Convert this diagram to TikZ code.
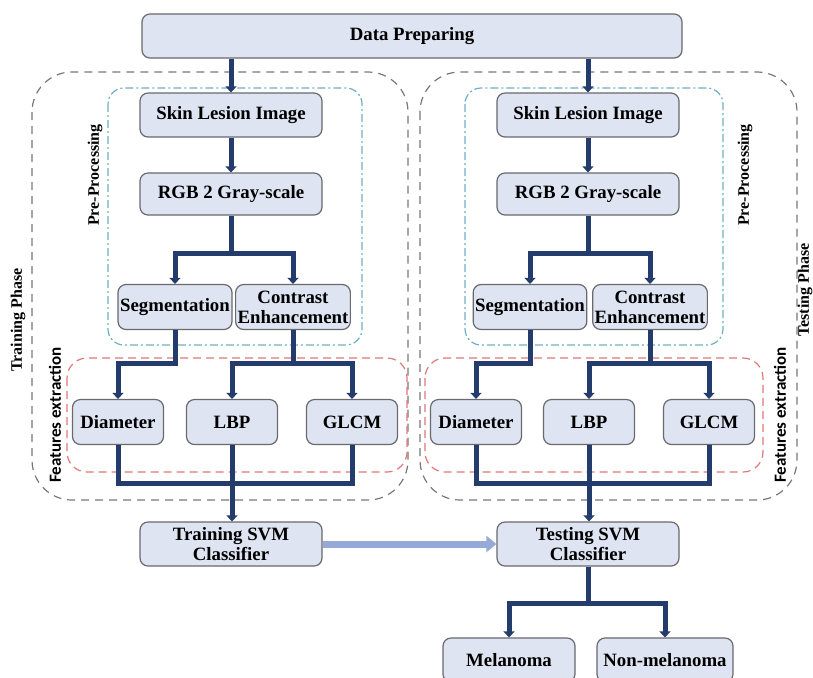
\documentclass[tikz,border=0pt]{standalone}
\usepackage{fontspec}
\setmainfont{Liberation Serif}
\newfontfamily\labelsans{Carlito}
\usetikzlibrary{arrows.meta}
\usetikzlibrary{positioning}
\definecolor{boxfill}{RGB}{222, 228, 242}
\definecolor{boxline}{RGB}{105, 105, 110}
\definecolor{flownavy}{RGB}{36, 60, 108}
\definecolor{phasegray}{RGB}{120, 120, 120}
\definecolor{precyan}{RGB}{110, 175, 200}
\definecolor{featred}{RGB}{225, 120, 120}
\definecolor{paleblue}{RGB}{150, 170, 215}
\tikzset{box/.style = {draw=boxline, line width=0.6pt, fill=boxfill, rounded corners=4pt,
                       align=center, inner sep=1pt,
                       font=\bfseries\fontsize{9.4}{10}\selectfont}}
\tikzset{wbox/.style = {box, minimum width=91pt, minimum height=22pt}}
\tikzset{sbox/.style = {box, minimum width=45.5pt, minimum height=22.5pt}}
\tikzset{line/.style = {draw=flownavy, line width=2.5pt}}
\tikzset{flow/.style = {line, -{Triangle[width=5.5pt,length=3pt]}}}
\tikzset{phase/.style = {draw=phasegray, line width=0.6pt, dash pattern=on 4pt off 3pt, rounded corners=20pt}}
\tikzset{preproc/.style = {draw=precyan, line width=0.6pt, dash pattern=on 4pt off 1.5pt on 1pt off 1.5pt, rounded corners=8pt}}
\tikzset{featx/.style = {draw=featred, line width=0.6pt, dash pattern=on 4pt off 2.5pt, rounded corners=10pt}}
\tikzset{side/.style = {rotate=90, font=\bfseries\fontsize{8}{9}\selectfont}}
\begin{document}
\begin{tikzpicture}[x=0.5pt, y=-0.5pt]
    \useasboundingbox (0, 0) rectangle (813, 677);

    % groups
    \draw [phase] (32, 72) rectangle (408, 500);
    \draw [phase] (420, 72) rectangle (797, 500);
    \draw [preproc] (108, 88) rectangle (362, 345);
    \draw [preproc] (465, 88) rectangle (723, 345);
    \draw [featx] (67, 358) rectangle (407, 472);
    \draw [featx] (425, 358) rectangle (763, 472);

    \node [side] at (18, 320) {Training Phase};
    \node [side] at (805, 290) {Testing Phase};
    \node [side] at (95, 175) {Pre-Processing};
    \node [side] at (745, 175) {Pre-Processing};
    \node [side, font=\labelsans\bfseries\fontsize{8.5}{9}\selectfont] at (55, 415) {Features extraction};
    \node [side, font=\labelsans\bfseries\fontsize{8.5}{9}\selectfont] at (780, 415) {Features extraction};

    % boxes
    \node [box, minimum width=270pt, minimum height=22pt] (prep) at (412, 36) {Data Preparing};

    \node [wbox] (sliL) at (231, 115) {Skin Lesion Image};
    \node [wbox, minimum height=21pt] (rgbL) at (231, 194) {RGB 2 Gray-scale};
    \node [box, minimum width=57pt, minimum height=22.5pt] (segL) at (175, 307) {Segmentation};
    \node [box, minimum width=57pt, minimum height=22.5pt] (conL) at (293, 307) {Contrast\\Enhancement};
    \node [sbox] (diaL) at (118, 422) {Diameter};
    \node [sbox] (lbpL) at (232, 422) {LBP};
    \node [sbox] (glcmL) at (352, 422) {GLCM};
    \node [wbox] (train) at (231, 544) {Training SVM\\Classifier};

    \node [wbox] (sliR) at (588, 115) {Skin Lesion Image};
    \node [wbox, minimum height=21pt] (rgbR) at (588, 194) {RGB 2 Gray-scale};
    \node [box, minimum width=56.5pt, minimum height=22.5pt] (segR) at (530, 307) {Segmentation};
    \node [box, minimum width=56.5pt, minimum height=22.5pt] (conR) at (650, 307) {Contrast\\Enhancement};
    \node [sbox] (diaR) at (476, 422) {Diameter};
    \node [sbox] (lbpR) at (589, 422) {LBP};
    \node [sbox] (glcmR) at (709, 422) {GLCM};
    \node [wbox] (test) at (588, 544) {Testing SVM\\Classifier};

    \node [box, minimum width=66pt, minimum height=22pt] (mel) at (509, 660) {Melanoma};
    \node [box, minimum width=68pt, minimum height=22pt] (non) at (665, 660) {Non-melanoma};

    % levels of the branches
    \coordinate (split) at (0, 253);
    \coordinate (feat) at (0, 363);
    \coordinate (merge) at (0, 483);
    \coordinate (out) at (0, 603);

    % connectors
    \draw [flow] (sliL.north |- prep.south) -- (sliL.north);
    \draw [flow] (sliR.north |- prep.south) -- (sliR.north);

    \foreach \s in {L, R} {
      \draw [flow] (sli\s.south) -- (rgb\s.north);
      \draw [line] (rgb\s.south) -- (rgb\s.south |- split);
      \draw [flow] (rgb\s.south |- split) -| (seg\s.north);
      \draw [flow] (rgb\s.south |- split) -| (con\s.north);
      \draw [flow] (seg\s.south) -- (seg\s.south |- feat) -| (dia\s.north);
      \draw [line] (con\s.south) -- (con\s.south |- feat);
      \draw [flow] (con\s.south |- feat) -| (lbp\s.north);
      \draw [flow] (con\s.south |- feat) -| (glcm\s.north);
      \draw [line] (dia\s.south) -- (dia\s.south |- merge) -| (glcm\s.south);
    }
    \draw [flow] (lbpL.south) -- (lbpL.south |- train.north);
    \draw [flow] (lbpR.south) -- (lbpR.south |- test.north);

    \draw [draw=paleblue, line width=3.5pt, -{Triangle[width=8pt,length=5pt]}] (train.east) -- (test.west);

    \draw [line] (test.south) -- (test.south |- out);
    \draw [flow] (test.south |- out) -| (mel.north);
    \draw [flow] (test.south |- out) -| (non.north);
\end{tikzpicture}
\end{document}
